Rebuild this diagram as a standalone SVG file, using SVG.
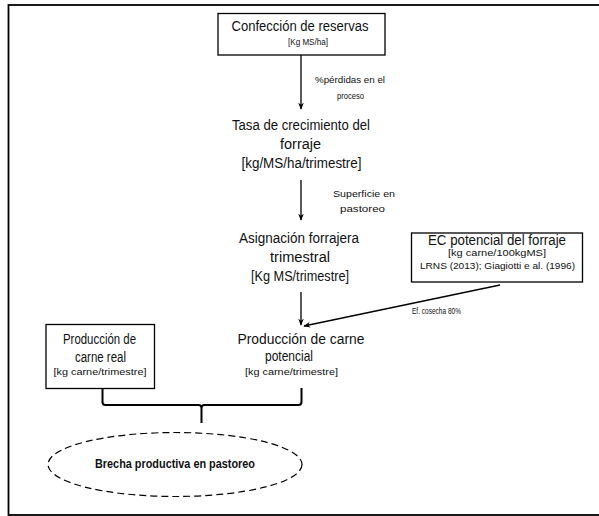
<svg xmlns="http://www.w3.org/2000/svg" width="599" height="516" viewBox="0 0 599 516">
<defs>
<style>
text{font-family:"Liberation Sans",Arial,sans-serif;fill:#111;text-anchor:middle}
.m{font-size:14px}
.s{font-size:9.5px}
.b{font-weight:bold;font-size:12.5px}
.box{fill:#fff;stroke:#000;stroke-width:1.3}
.ln{fill:none;stroke:#000;stroke-width:1.3}
</style>
<marker id="ah" viewBox="0 0 10 10" refX="9" refY="5" markerWidth="7" markerHeight="7" orient="auto" markerUnits="userSpaceOnUse">
<path d="M0,1 L10,5 L0,9 L3,5 Z" fill="#000"/>
</marker>
</defs>
<rect x="0" y="0" width="599" height="516" fill="#fff"/>
<rect x="8.5" y="5" width="600" height="510" fill="none" stroke="#000" stroke-width="1.8"/>

<g id="connectors">
<line class="ln" x1="301" y1="55" x2="301" y2="109" marker-end="url(#ah)"/>
<line class="ln" x1="301" y1="180" x2="301" y2="220" marker-end="url(#ah)"/>
<line class="ln" x1="301" y1="292" x2="301" y2="325" marker-end="url(#ah)"/>
<line class="ln" x1="500" y1="285" x2="304" y2="326" marker-end="url(#ah)"/>
<path d="M102.5,389 V402 Q102.5,405 105.5,405 H198.5 Q201.5,405 201.5,408 V423 M201.5,408 Q201.5,405 204.5,405 H298.5 Q301.5,405 301.5,402 V388" fill="none" stroke="#000" stroke-width="2"/>
<text class="s" x="350" y="83" textLength="70" lengthAdjust="spacingAndGlyphs">%pérdidas en el</text>
<text class="s" x="350.5" y="99" textLength="27" lengthAdjust="spacingAndGlyphs">proceso</text>
<text class="s" x="364" y="197" textLength="62" lengthAdjust="spacingAndGlyphs">Superficie en</text>
<text class="s" x="362.5" y="212" textLength="45" lengthAdjust="spacingAndGlyphs">pastoreo</text>
<text class="s" x="436.5" y="314" textLength="49" lengthAdjust="spacingAndGlyphs">Ef. cosecha 80%</text>
</g>

<g id="confeccion">
<rect class="box" x="218" y="13.5" width="167" height="41.5"/>
<text class="m" x="300" y="30.5" textLength="137" lengthAdjust="spacingAndGlyphs">Confección de reservas</text>
<text class="s" x="308" y="45" textLength="40" lengthAdjust="spacingAndGlyphs">[Kg MS/ha]</text>
</g>

<g id="tasa">
<text class="m" x="301" y="130" textLength="138" lengthAdjust="spacingAndGlyphs">Tasa de crecimiento del</text>
<text class="m" x="300.5" y="149" textLength="41" lengthAdjust="spacingAndGlyphs">forraje</text>
<text class="m" x="301.5" y="168" textLength="120" lengthAdjust="spacingAndGlyphs">[kg/MS/ha/trimestre]</text>
</g>

<g id="asignacion">
<text class="m" x="299" y="243" textLength="120" lengthAdjust="spacingAndGlyphs">Asignación forrajera</text>
<text class="m" x="300" y="262" textLength="60" lengthAdjust="spacingAndGlyphs">trimestral</text>
<text class="m" x="300" y="281" textLength="98" lengthAdjust="spacingAndGlyphs">[Kg MS/trimestre]</text>
</g>

<g id="ec">
<rect class="box" x="411.5" y="233" width="171" height="49"/>
<text class="m" x="497" y="244.5" textLength="138" lengthAdjust="spacingAndGlyphs">EC potencial del forraje</text>
<text class="s" x="497" y="256" textLength="98" lengthAdjust="spacingAndGlyphs">[kg carne/100kgMS]</text>
<text class="s" x="497.5" y="269" textLength="155" lengthAdjust="spacingAndGlyphs">LRNS (2013); Giagiotti e al. (1996)</text>
</g>

<g id="real">
<rect class="box" x="46" y="324.5" width="108.5" height="64"/>
<text class="m" x="99.5" y="344" textLength="73" lengthAdjust="spacingAndGlyphs">Producción de</text>
<text class="m" x="100.5" y="362" textLength="51" lengthAdjust="spacingAndGlyphs">carne real</text>
<text class="s" x="100" y="375" textLength="93" lengthAdjust="spacingAndGlyphs">[kg carne/trimestre]</text>
</g>

<g id="potencial">
<text class="m" x="301" y="344" textLength="127" lengthAdjust="spacingAndGlyphs">Producción de carne</text>
<text class="m" x="289" y="361" textLength="48" lengthAdjust="spacingAndGlyphs">potencial</text>
<text class="s" x="291.5" y="375" textLength="93" lengthAdjust="spacingAndGlyphs">[kg carne/trimestre]</text>
</g>

<g id="brecha">
<ellipse cx="175" cy="464.5" rx="127" ry="32" fill="none" stroke="#000" stroke-width="1.2" stroke-dasharray="7,4"/>
<text class="b" x="175" y="468" textLength="160" lengthAdjust="spacingAndGlyphs">Brecha productiva  en pastoreo</text>
</g>
</svg>
